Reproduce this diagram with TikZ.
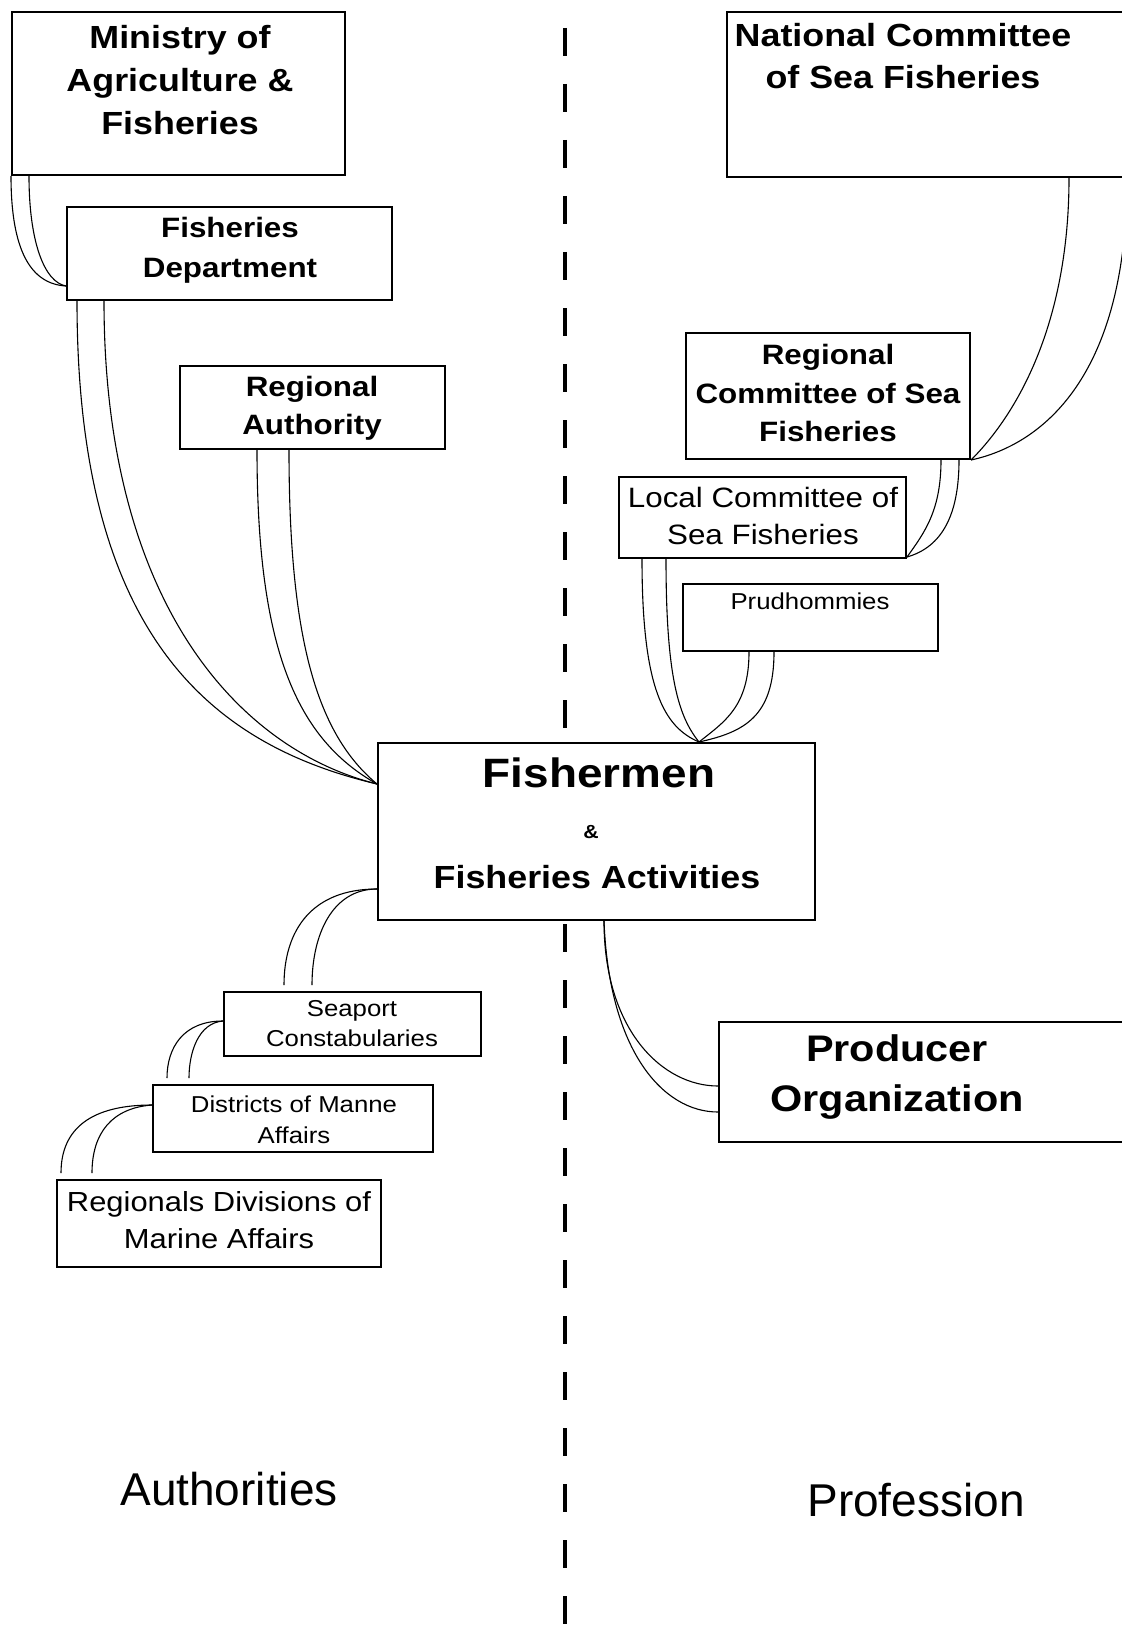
\documentclass[tikz,border=0pt]{standalone}
\usepackage{fontspec}
\setmainfont{Liberation Sans}[FakeStretch=1.12]
\newfontfamily\plainfont{Liberation Sans}
\begin{document}
\begin{tikzpicture}[x=0.5pt,y=-0.5pt,
  box/.style={draw=black, line width=1pt, fill=white, inner sep=0pt},
  txt/.style={align=center, inner sep=0pt},
  conn/.style={draw=black, line width=0.55pt},
  divider/.style={line width=1.8pt, dash pattern=on 14pt off 14pt}]
\useasboundingbox (0,0) rectangle (1121,1637);
\fill[white] (0,0) rectangle (1121,1637);

\draw[divider] (565,28) -- (565,1637);

% boxes
\node[box, minimum width=166.5pt, minimum height=81.5pt] (maf) at (178.5,93.5) {};
\node[box, minimum width=201.5pt, minimum height=82.5pt] (ncsf) at (928.5,94.5) {};
\node[box, minimum width=162.5pt, minimum height=46.5pt] (fd) at (229.5,253.5) {};
\node[box, minimum width=132.5pt, minimum height=41.5pt] (ra) at (312.5,407.5) {};
\node[box, minimum width=142pt, minimum height=63pt] (rcsf) at (828,396) {};
\node[box, minimum width=143.5pt, minimum height=40.5pt] (lcsf) at (762.5,517.5) {};
\node[box, minimum width=127.5pt, minimum height=33.5pt] (prud) at (810.5,617.5) {};
\node[box, minimum width=218.5pt, minimum height=88.5pt] (fish) at (596.5,831.5) {};
\node[box, minimum width=128.5pt, minimum height=32pt] (sea) at (352.5,1024) {};
\node[box, minimum width=140pt, minimum height=33.5pt] (dma) at (293,1118.5) {};
\node[box, minimum width=162pt, minimum height=43.5pt] (rdma) at (219,1223.5) {};
\node[box, minimum width=205.5pt, minimum height=60pt] (po) at (924.5,1082) {};

% texts
\node[txt, font=\fontsize{16}{21.5}\selectfont\bfseries] (mafT) at (180,80) {Ministry of\\Agriculture \&\\Fisheries};
\node[txt, font=\fontsize{16}{21}\selectfont\bfseries] (ncsfT) at (903,56) {National Committee\\of Sea Fisheries};
\node[txt, font=\fontsize{14}{20}\selectfont\bfseries] (fdT) at (230,250) {Fisheries\\Department};
\node[txt, font=\fontsize{14}{19}\selectfont\bfseries] (raT) at (312,408) {Regional\\Authority};
\node[txt, font=\fontsize{14}{19.25}\selectfont\bfseries] (rcsfT) at (828,393) {Regional\\Committee of Sea\\Fisheries};
\node[txt, font=\fontsize{14}{18.5}\selectfont] (lcsfT) at (763,516) {Local Committee of\\Sea Fisheries};
\node[txt, font=\fontsize{11.5}{14}\selectfont] (prudT) at (810,601) {Prudhommies};
\node[txt, font=\fontsize{20.5}{24}\selectfont\bfseries] (fishA) at (599,773) {Fishermen};
\node[txt, font=\fontsize{9.5}{11}\selectfont\bfseries] (fishB) at (591,832) {\&};
\node[txt, font=\fontsize{16}{19}\selectfont\bfseries] (fishC) at (597,877) {Fisheries Activities};
\node[txt, font=\fontsize{11.5}{15}\selectfont] (seaT) at (352,1024) {Seaport\\Constabularies};
\node[txt, font=\fontsize{11.5}{15.5}\selectfont] (dmaT) at (294,1120) {Districts of Manne\\Affairs};
\node[txt, font=\fontsize{13.8}{18.5}\selectfont] (rdmaT) at (219,1220) {Regionals Divisions of\\Marine Affairs};
\node[txt, font=\fontsize{18.5}{25}\selectfont\bfseries] (poT) at (897,1077) {Producer\\Organization};
\node[txt, font=\plainfont\fontsize{23}{27}\selectfont] (auth) at (229,1489) {Authorities};
\node[txt, font=\plainfont\fontsize{23}{27}\selectfont] (prof) at (916,1500) {Profession};

% connectors
\draw[conn] (maf.south west) .. controls +(0,75) and +(-35,-2) .. ([yshift=7.5pt]fd.south west);
\draw[conn] ([xshift=9pt]maf.south west) .. controls +(0,65) and +(-22,-4) .. ([yshift=7.5pt]fd.south west);

\draw[conn] ([xshift=5.5pt]fd.south west) .. controls +(0,330) and +(-170,-40) .. ([yshift=-21pt]fish.north west);
\draw[conn] ([xshift=19pt]fd.south west) .. controls +(0,300) and +(-140,-35) .. ([yshift=-21pt]fish.north west);
\draw[conn] ([xshift=39pt]ra.south west) .. controls +(0,200) and +(-80,-45) .. ([yshift=-21pt]fish.north west);
\draw[conn] ([xshift=55pt]ra.south west) .. controls +(0,190) and +(-60,-50) .. ([yshift=-21pt]fish.north west);

\draw[conn] ([xshift=171.5pt]ncsf.south west) .. controls +(0,140) and +(50,-50) .. (rcsf.south east);
\draw[conn] ([xshift=-2pt]ncsf.south east) .. controls +(0,200) and +(70,-15) .. (rcsf.south east);

\draw[conn] ([xshift=128pt]rcsf.south west) .. controls +(0,50) and +(18,-25) .. ([yshift=1pt]lcsf.south east);
\draw[conn] ([xshift=137pt]rcsf.south west) .. controls +(0,55) and +(35,-10) .. ([yshift=1pt]lcsf.south east);

\draw[conn] ([xshift=12pt]lcsf.south west) .. controls +(0,130) and +(-35,-15) .. ([xshift=161pt]fish.north west);
\draw[conn] ([xshift=24pt]lcsf.south west) .. controls +(0,120) and +(-20,-25) .. ([xshift=161pt]fish.north west);
\draw[conn] ([xshift=46pt]prud.south west) .. controls +(0,65) and +(45,-10) .. ([xshift=161pt]fish.north west);
\draw[conn] ([xshift=33.5pt]prud.south west) .. controls +(0,55) and +(25,-20) .. ([xshift=161pt]fish.north west);

\draw[conn] ([yshift=16pt]fish.south west) .. controls +(-65,0) and +(0,-55) .. ([xshift=30.5pt,yshift=3pt]sea.north west);
\draw[conn] ([yshift=16pt]fish.south west) .. controls +(-45,0) and +(0,-50) .. ([xshift=44.5pt,yshift=3pt]sea.north west);

\draw[conn] ([yshift=-15pt]sea.north west) .. controls +(-40,0) and +(0,-30) .. ([xshift=7.5pt,yshift=3pt]dma.north west);
\draw[conn] ([yshift=-15pt]sea.north west) .. controls +(-25,2) and +(0,-25) .. ([xshift=18.5pt,yshift=3pt]dma.north west);

\draw[conn] ([yshift=-10.5pt]dma.north west) .. controls +(-60,0) and +(0,-45) .. ([xshift=2.5pt,yshift=3pt]rdma.north west);
\draw[conn] ([yshift=-10.5pt]dma.north west) .. controls +(-40,3) and +(0,-40) .. ([xshift=18pt,yshift=3pt]rdma.north west);

\draw[conn] ([xshift=113.5pt]fish.south west) .. controls +(0,110) and +(-55,0) .. ([yshift=-32.5pt]po.north west);
\draw[conn] ([xshift=113.5pt]fish.south west) .. controls +(5,130) and +(-55,0) .. ([yshift=-45.5pt]po.north west);
\end{tikzpicture}
\end{document}
